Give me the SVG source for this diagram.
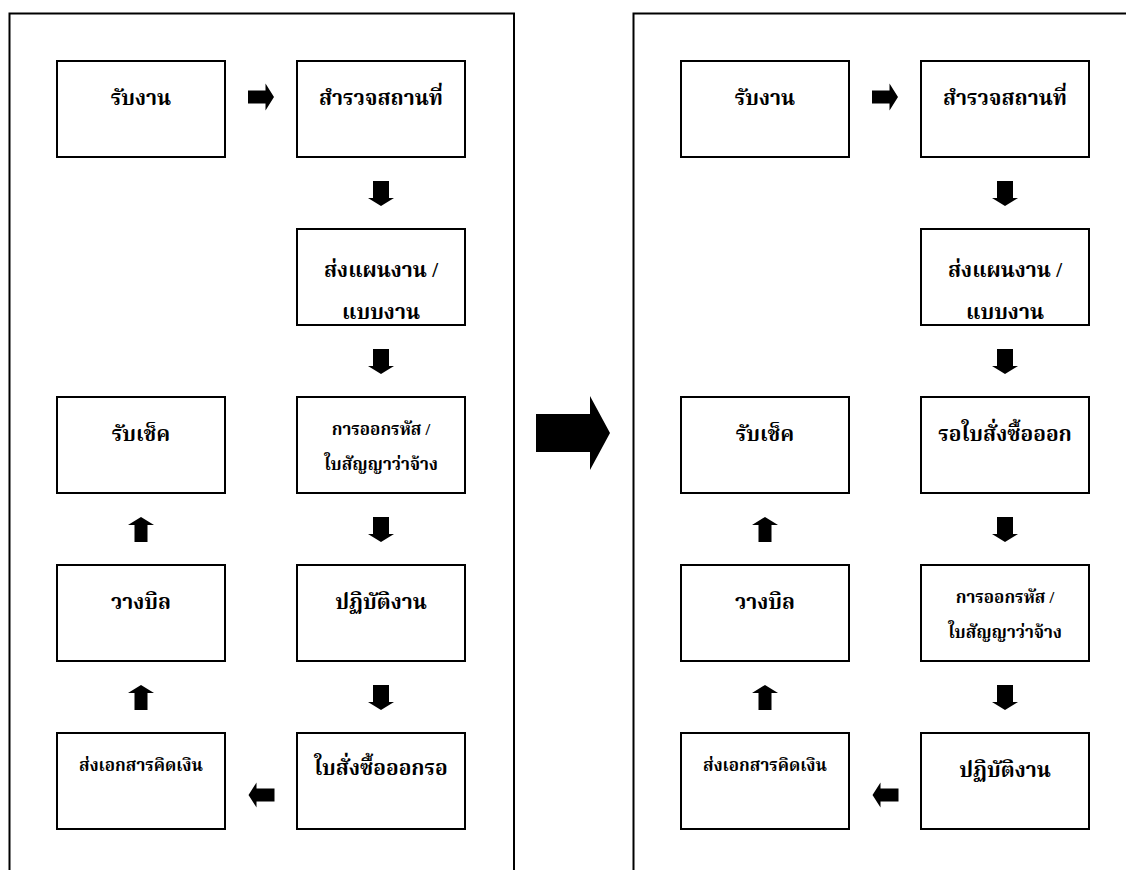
<svg xmlns="http://www.w3.org/2000/svg" width="1126" height="870" viewBox="0 0 1126 870">
<style>
.panel{fill:none;stroke:#000;stroke-width:2}
.box{fill:#fff;stroke:#000;stroke-width:2}
.t{font-family:"Liberation Serif","Noto Serif Thai","Norasi",serif;font-weight:bold;font-size:21px;text-anchor:middle;fill:#000}
.s{font-size:17px}
.arr{fill:#000;stroke:none}
</style>
<rect width="1126" height="870" fill="#fff"/>
<g id="panel-left"><rect class="panel" x="9.5" y="13.5" width="504.5" height="900"/></g>
<g id="panel-right"><rect class="panel" x="633.5" y="13.5" width="504.5" height="900"/></g>

<g id="L-receive"><rect class="box" x="57" y="61" width="168" height="96"/><text class="t" x="141" y="105">รับงาน</text></g>
<g id="L-survey"><rect class="box" x="297" y="61" width="168" height="96"/><text class="t" x="381" y="105">สำรวจสถานที่</text></g>
<g id="L-plan"><rect class="box" x="297" y="229" width="168" height="96"/><text class="t" x="381" y="277">ส่งแผนงาน /</text><text class="t" x="381" y="319">แบบงาน</text></g>
<g id="L-code"><rect class="box" x="297" y="397" width="168" height="96"/><text class="t s" x="381" y="435">การออกรหัส /</text><text class="t s" x="381" y="470">ใบสัญญาว่าจ้าง</text></g>
<g id="L-work"><rect class="box" x="297" y="565" width="168" height="96"/><text class="t" x="381" y="609">ปฏิบัติงาน</text></g>
<g id="L-po"><rect class="box" x="297" y="733" width="168" height="96"/><text class="t" x="381" y="775">ใบสั่งซื้อออกรอ</text></g>
<g id="L-billdoc"><rect class="box" x="57" y="733" width="168" height="96"/><text class="t s" x="141" y="771">ส่งเอกสารคิดเงิน</text></g>
<g id="L-bill"><rect class="box" x="57" y="565" width="168" height="96"/><text class="t" x="141" y="609">วางบิล</text></g>
<g id="L-cheque"><rect class="box" x="57" y="397" width="168" height="96"/><text class="t" x="141" y="441">รับเช็ค</text></g>

<g id="R-receive"><rect class="box" x="681" y="61" width="168" height="96"/><text class="t" x="765" y="105">รับงาน</text></g>
<g id="R-survey"><rect class="box" x="921" y="61" width="168" height="96"/><text class="t" x="1005" y="105">สำรวจสถานที่</text></g>
<g id="R-plan"><rect class="box" x="921" y="229" width="168" height="96"/><text class="t" x="1005" y="277">ส่งแผนงาน /</text><text class="t" x="1005" y="319">แบบงาน</text></g>
<g id="R-wait"><rect class="box" x="921" y="397" width="168" height="96"/><text class="t" x="1005" y="441">รอใบสั่งซื้อออก</text></g>
<g id="R-code"><rect class="box" x="921" y="565" width="168" height="96"/><text class="t s" x="1005" y="603">การออกรหัส /</text><text class="t s" x="1005" y="638">ใบสัญญาว่าจ้าง</text></g>
<g id="R-work"><rect class="box" x="921" y="733" width="168" height="96"/><text class="t" x="1005" y="777">ปฏิบัติงาน</text></g>
<g id="R-billdoc"><rect class="box" x="681" y="733" width="168" height="96"/><text class="t s" x="765" y="771">ส่งเอกสารคิดเงิน</text></g>
<g id="R-bill"><rect class="box" x="681" y="565" width="168" height="96"/><text class="t" x="765" y="609">วางบิล</text></g>
<g id="R-cheque"><rect class="box" x="681" y="397" width="168" height="96"/><text class="t" x="765" y="441">รับเช็ค</text></g>

<g id="connectors">
<path class="arr" d="M248,90.5H265.5V83.5L274,97L265.5,110.5V103.5H248Z"/>
<path class="arr" d="M373,181H389V198H394L381,206L368,198H373Z"/>
<path class="arr" d="M373,349H389V366H394L381,374L368,366H373Z"/>
<path class="arr" d="M373,517H389V534H394L381,542L368,534H373Z"/>
<path class="arr" d="M373,685H389V702H394L381,710L368,702H373Z"/>
<path class="arr" d="M274.5,788.5H256.5V782.5L248.5,795L256.5,807.5V801.5H274.5Z"/>
<path class="arr" d="M134.5,542V525H128L141,517L154,525H147.5V542Z"/>
<path class="arr" d="M134.5,710V693H128L141,685L154,693H147.5V710Z"/>

<path class="arr" d="M536,414H590V396L610,433L590,470V452H536Z"/>

<path class="arr" d="M872,90.5H889.5V83.5L898,97L889.5,110.5V103.5H872Z"/>
<path class="arr" d="M997,181H1013V198H1018L1005,206L992,198H997Z"/>
<path class="arr" d="M997,349H1013V366H1018L1005,374L992,366H997Z"/>
<path class="arr" d="M997,517H1013V534H1018L1005,542L992,534H997Z"/>
<path class="arr" d="M997,685H1013V702H1018L1005,710L992,702H997Z"/>
<path class="arr" d="M898.5,788.5H880.5V782.5L872.5,795L880.5,807.5V801.5H898.5Z"/>
<path class="arr" d="M758.5,542V525H752L765,517L778,525H771.5V542Z"/>
<path class="arr" d="M758.5,710V693H752L765,685L778,693H771.5V710Z"/>
</g>
</svg>
